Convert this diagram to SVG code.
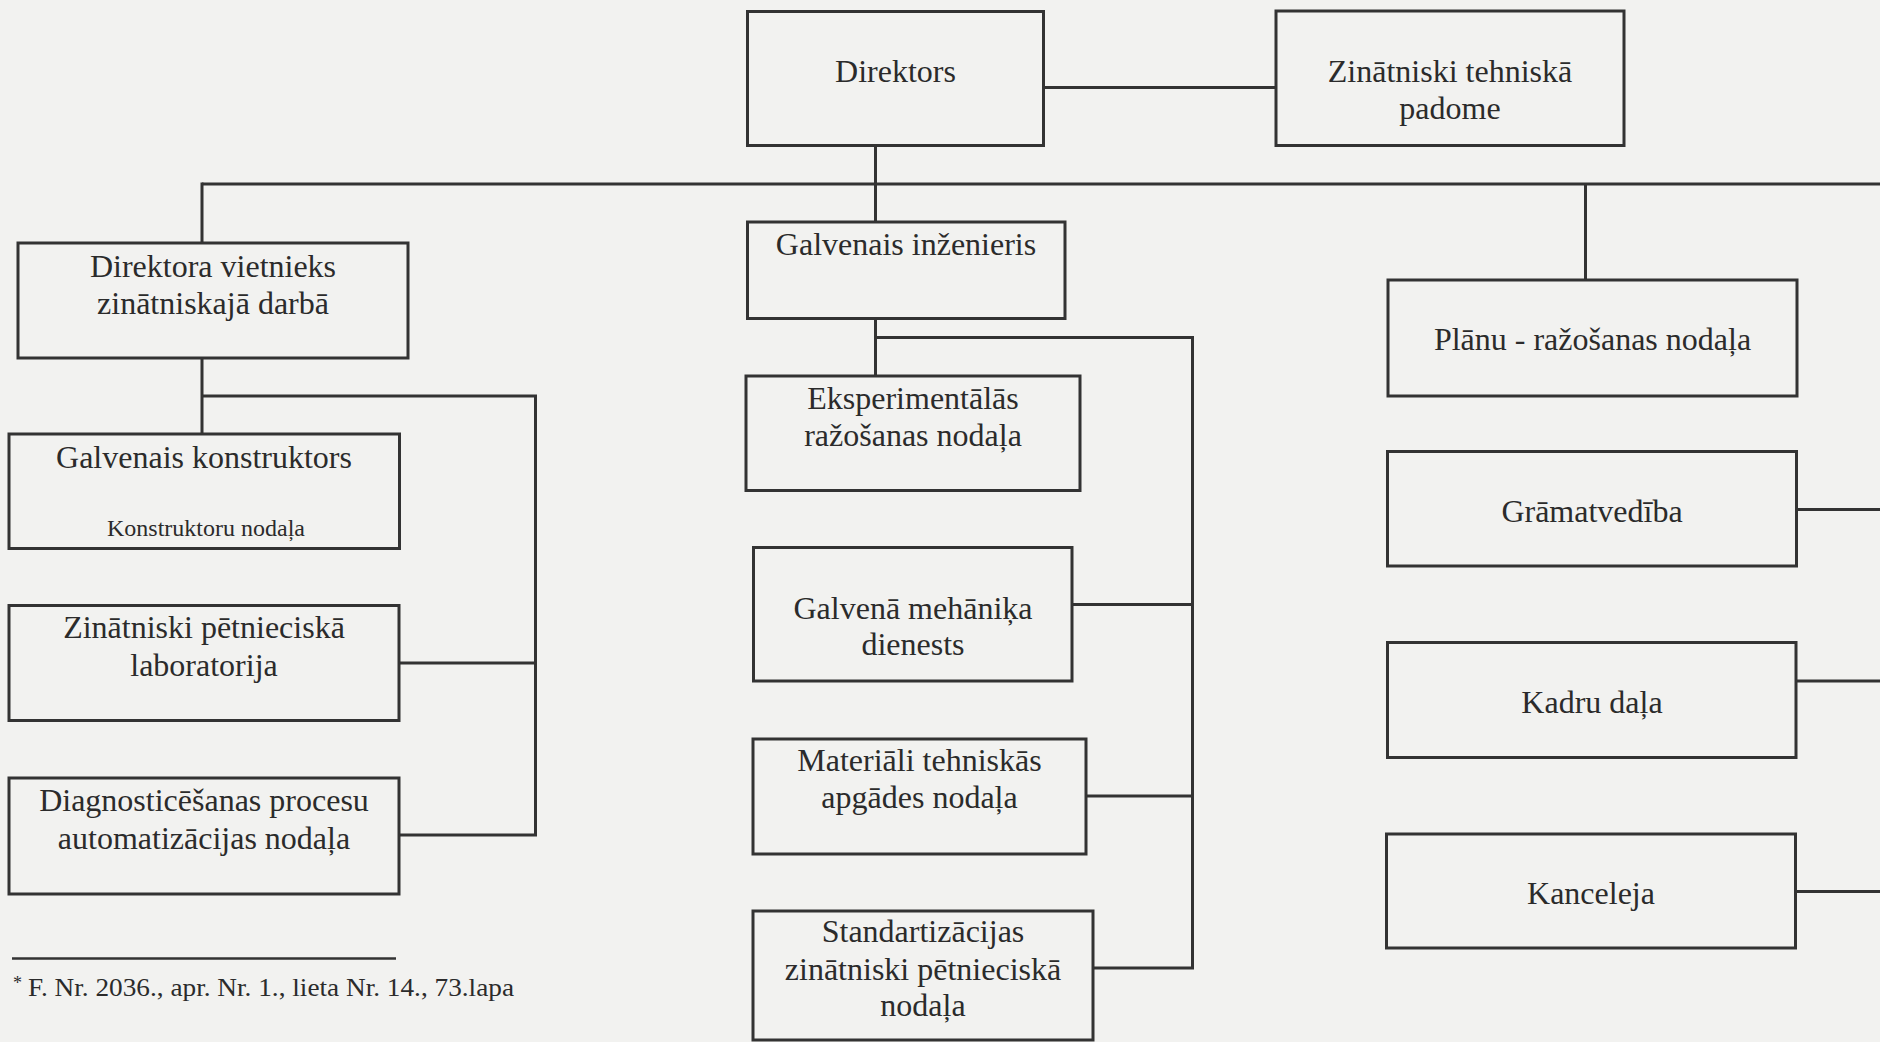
<svg xmlns="http://www.w3.org/2000/svg" width="1880" height="1042" viewBox="0 0 1880 1042">
<style>
.bg{fill:#f2f2f0}
.box{fill:none;stroke:#333333;stroke-width:3}
.ln{fill:none;stroke:#333333;stroke-width:3}
.t{font-family:"Liberation Serif","Times New Roman",serif;font-size:32px;fill:#2b2b2b;text-anchor:middle}
.s{font-family:"Liberation Serif","Times New Roman",serif;font-size:24px;fill:#2b2b2b;text-anchor:middle}
.fn{font-family:"Liberation Serif","Times New Roman",serif;font-size:25px;fill:#2b2b2b}
</style>
<rect class="bg" x="0" y="0" width="1880" height="1042"/>
<g id="connectors">
<line class="ln" x1="1043.5" y1="87.5" x2="1276" y2="87.5"/>
<line class="ln" x1="875.5" y1="145.5" x2="875.5" y2="222"/>
<line class="ln" x1="202" y1="184" x2="1882" y2="184"/>
<line class="ln" x1="202" y1="182.5" x2="202" y2="243"/>
<line class="ln" x1="1585.5" y1="184" x2="1585.5" y2="280"/>
<line class="ln" x1="202" y1="358" x2="202" y2="434"/>
<polyline class="ln" points="202,396 535.5,396 535.5,835 399,835"/>
<line class="ln" x1="399" y1="663" x2="535.5" y2="663"/>
<line class="ln" x1="875.5" y1="318.5" x2="875.5" y2="376"/>
<polyline class="ln" points="875.5,337.5 1192.5,337.5 1192.5,968 1093,968"/>
<line class="ln" x1="1072" y1="604.5" x2="1192.5" y2="604.5"/>
<line class="ln" x1="1086" y1="796" x2="1192.5" y2="796"/>
<line class="ln" x1="1796.5" y1="509.5" x2="1882" y2="509.5"/>
<line class="ln" x1="1796" y1="681" x2="1882" y2="681"/>
<line class="ln" x1="1795.5" y1="891.5" x2="1882" y2="891.5"/>
</g>
<g id="direktors">
<rect class="box" x="747.5" y="11.5" width="296" height="134"/>
<text class="t" x="895.5" y="82">Direktors</text>
</g>
<g id="ztp">
<rect class="box" x="1276" y="11" width="348" height="134.5"/>
<text class="t" x="1450" y="81.5">Zinātniski tehniskā</text>
<text class="t" x="1450" y="119">padome</text>
</g>
<g id="vietnieks">
<rect class="box" x="18" y="243" width="390" height="115"/>
<text class="t" x="213" y="277">Direktora vietnieks</text>
<text class="t" x="213" y="314">zinātniskajā darbā</text>
</g>
<g id="inzenieris">
<rect class="box" x="747.5" y="222" width="317.5" height="96.5"/>
<text class="t" x="906" y="255">Galvenais inženieris</text>
</g>
<g id="eksperimentalas">
<rect class="box" x="746" y="376" width="334" height="114.5"/>
<text class="t" x="913" y="408.5">Eksperimentālās</text>
<text class="t" x="913" y="446">ražošanas nodaļa</text>
</g>
<g id="planu">
<rect class="box" x="1388" y="280" width="409" height="116"/>
<text class="t" x="1592.5" y="350">Plānu - ražošanas nodaļa</text>
</g>
<g id="konstruktors">
<rect class="box" x="9" y="434" width="390.5" height="114.5"/>
<text class="t" x="204" y="467.5">Galvenais konstruktors</text>
<text class="s" x="206" y="536">Konstruktoru nodaļa</text>
</g>
<g id="laboratorija">
<rect class="box" x="9" y="605.5" width="390" height="115"/>
<text class="t" x="204" y="638">Zinātniski pētnieciskā</text>
<text class="t" x="204" y="676">laboratorija</text>
</g>
<g id="diagnosticesanas">
<rect class="box" x="9" y="778" width="390" height="116"/>
<text class="t" x="204" y="811">Diagnosticēšanas procesu</text>
<text class="t" x="204" y="848.5">automatizācijas nodaļa</text>
</g>
<g id="mehanika">
<rect class="box" x="753.5" y="547.5" width="318.5" height="133.5"/>
<text class="t" x="913" y="618.5">Galvenā mehāniķa</text>
<text class="t" x="913" y="655">dienests</text>
</g>
<g id="materiali">
<rect class="box" x="753" y="739" width="333" height="115"/>
<text class="t" x="919.5" y="771">Materiāli tehniskās</text>
<text class="t" x="919.5" y="808">apgādes nodaļa</text>
</g>
<g id="standartizacijas">
<rect class="box" x="753" y="911" width="340" height="129"/>
<text class="t" x="923" y="942">Standartizācijas</text>
<text class="t" x="923" y="979.5">zinātniski pētnieciskā</text>
<text class="t" x="923" y="1016">nodaļa</text>
</g>
<g id="gramatvediba">
<rect class="box" x="1387.5" y="451.5" width="409" height="114.5"/>
<text class="t" x="1592" y="521.5">Grāmatvedība</text>
</g>
<g id="kadru">
<rect class="box" x="1387.5" y="642.5" width="408.5" height="115"/>
<text class="t" x="1592" y="713">Kadru daļa</text>
</g>
<g id="kanceleja">
<rect class="box" x="1386.5" y="834" width="409" height="114"/>
<text class="t" x="1591" y="904">Kanceleja</text>
</g>
<g id="footnote">
<line x1="12" y1="958.5" x2="396" y2="958.5" stroke="#333333" stroke-width="2.5"/>
<text class="fn" x="13" y="996"><tspan font-size="18" dy="-7">*</tspan><tspan x="28" dy="7" textLength="486" lengthAdjust="spacingAndGlyphs">F. Nr. 2036., apr. Nr. 1., lieta Nr. 14., 73.lapa</tspan></text>
</g>
</svg>
